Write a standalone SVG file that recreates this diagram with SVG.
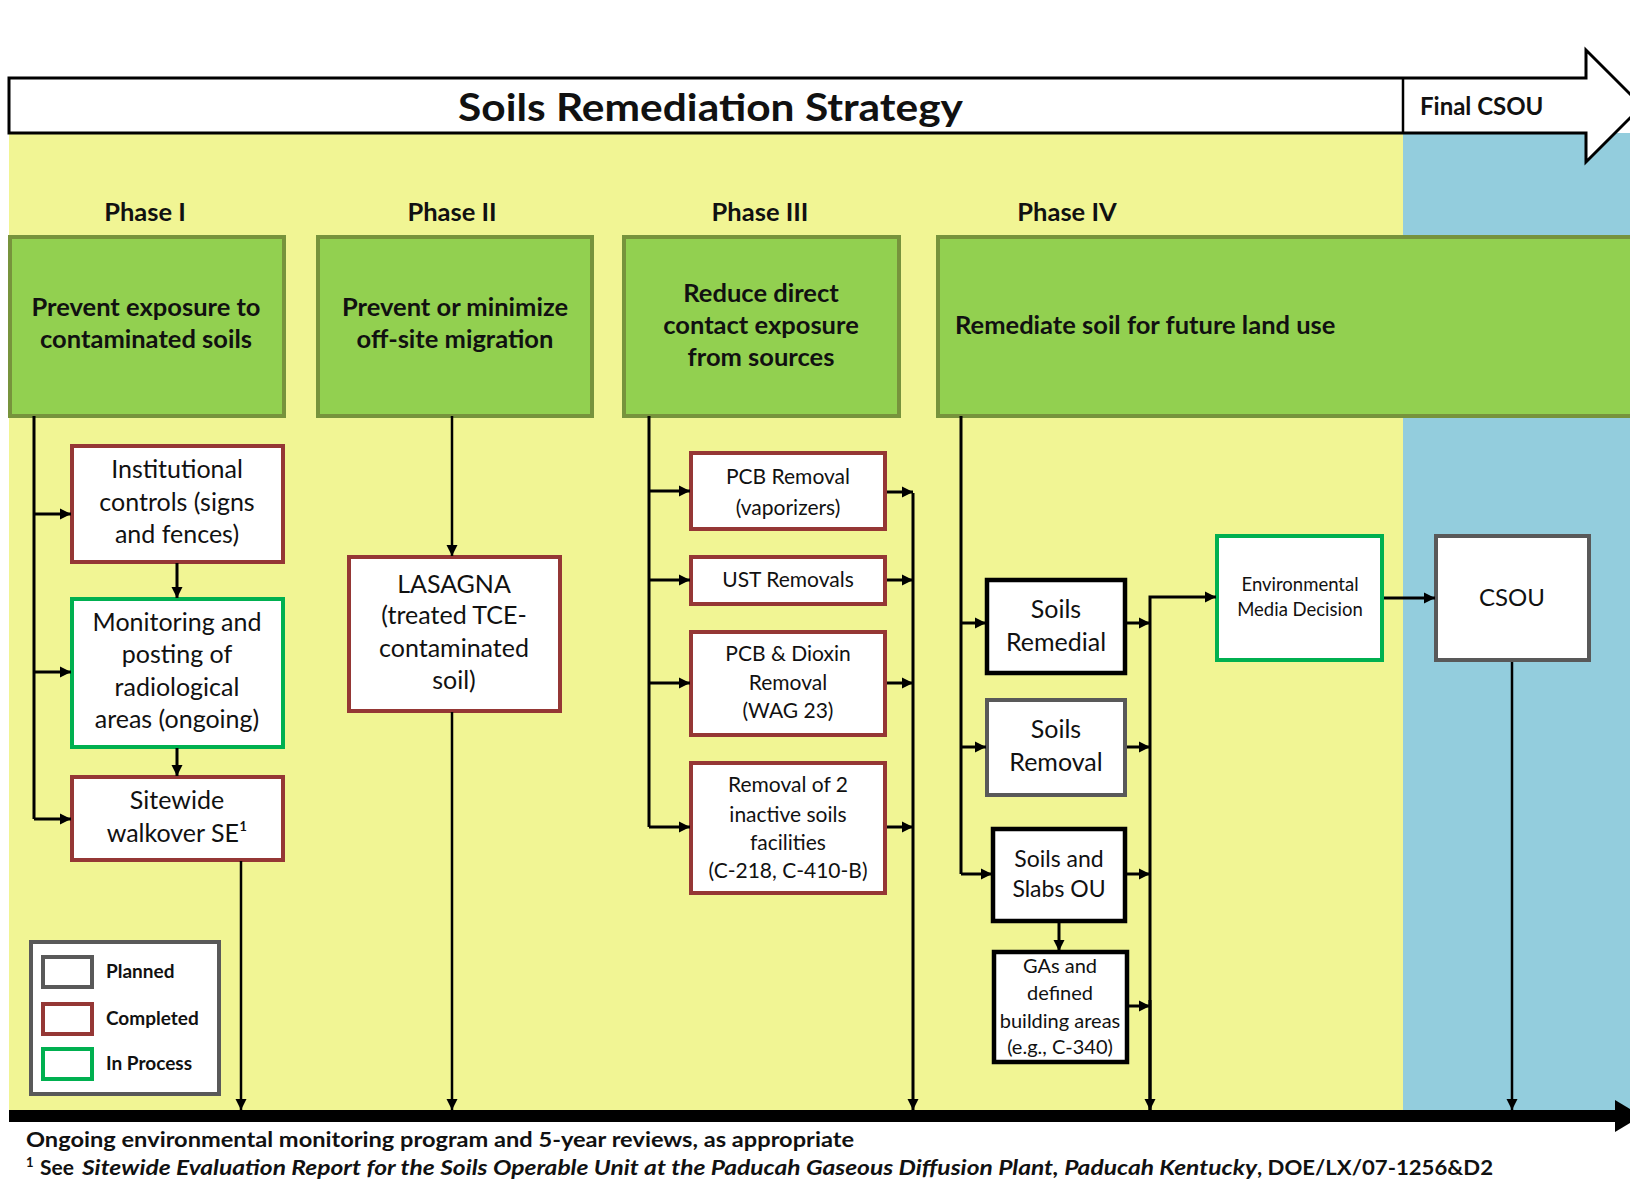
<svg xmlns="http://www.w3.org/2000/svg" width="1630" height="1181" viewBox="0 0 1630 1181">
<defs>
<style>
text{font-family:Lato,"Liberation Sans",sans-serif;fill:#111}
.b{font-weight:bold}
.c{text-anchor:middle}
.hdr{fill:#92D050;stroke:#77933C;stroke-width:4}
.done{fill:#fff;stroke:#953735;stroke-width:4}
.prog{fill:#fff;stroke:#00B050;stroke-width:4}
.plan{fill:#fff;stroke:#595959;stroke-width:4}
.blk{fill:#fff;stroke:#000;stroke-width:4.5}
.ph{font-size:25.5px;font-weight:bold}
.gt{font-size:25.5px;font-weight:bold}
.st{font-size:25px}
.s3{font-size:21px}
.ln{fill:none;stroke:#000;stroke-width:3}
.ln2{fill:none;stroke:#000;stroke-width:2.5}
.ar{marker-end:url(#ah)}
</style>
<marker id="ah" markerWidth="12" markerHeight="12" refX="11" refY="6" orient="auto" markerUnits="userSpaceOnUse"><path d="M0,0.5 L11,6 L0,11.5 z" fill="#000"/></marker>
</defs>
<rect width="1630" height="1181" fill="#fff"/>
<g id="background">
<rect x="9" y="133" width="1394" height="977" fill="#F1F594"/>
<rect x="1403" y="133" width="227" height="977" fill="#93CDDD"/>
</g>
<g id="header">
<path d="M9,78 H1586 V50 L1642,106 L1586,162 V133 H9 Z" fill="#fff" stroke="#000" stroke-width="3"/>
<line x1="1403" y1="78" x2="1403" y2="133" stroke="#000" stroke-width="2.5"/>
<text x="458" y="121" font-size="38" class="b" textLength="505" lengthAdjust="spacingAndGlyphs">Soils Remediation Strategy</text>
<text x="1420" y="115" font-size="24" class="b">Final CSOU</text>
</g>
<g id="phase-labels">
<text x="145" y="221" class="ph c">Phase I</text>
<text x="452" y="221" class="ph c">Phase II</text>
<text x="760" y="221" class="ph c">Phase III</text>
<text x="1067" y="221" class="ph c">Phase IV</text>
</g>
<g id="phase1-goal">
<rect x="10" y="237" width="274" height="179" class="hdr"/>
<text x="146" y="316" class="gt c">Prevent exposure to</text>
<text x="146" y="348" class="gt c">contaminated soils</text>
</g>
<g id="phase2-goal">
<rect x="318" y="237" width="274" height="179" class="hdr"/>
<text x="455" y="316" class="gt c">Prevent or minimize</text>
<text x="455" y="348" class="gt c">off-site migration</text>
</g>
<g id="phase3-goal">
<rect x="624" y="237" width="275" height="179" class="hdr"/>
<text x="761" y="302" class="gt c">Reduce direct</text>
<text x="761" y="334" class="gt c">contact exposure</text>
<text x="761" y="366" class="gt c">from sources</text>
</g>
<g id="phase4-goal">
<rect x="938" y="237" width="710" height="179" class="hdr"/>
<text x="955" y="334" class="gt">Remediate soil for future land use</text>
</g>
<g id="institutional">
<rect x="72" y="446" width="211" height="116" class="done"/>
<text x="177" y="478" class="st c">Institutional</text>
<text x="177" y="511" class="st c">controls (signs</text>
<text x="177" y="543" class="st c">and fences)</text>
</g>
<g id="monitoring">
<rect x="72" y="599" width="211" height="148" class="prog"/>
<text x="177" y="631" class="st c">Monitoring and</text>
<text x="177" y="663" class="st c">posting of</text>
<text x="177" y="696" class="st c">radiological</text>
<text x="177" y="728" class="st c">areas (ongoing)</text>
</g>
<g id="sitewide">
<rect x="72" y="777" width="211" height="83" class="done"/>
<text x="177" y="809" class="st c">Sitewide</text>
<text x="177" y="842" class="st c">walkover SE¹</text>
</g>
<g id="lasagna">
<rect x="349" y="557" width="211" height="154" class="done"/>
<text x="454" y="593" class="st c">LASAGNA</text>
<text x="454" y="624" class="st c">(treated TCE-</text>
<text x="454" y="657" class="st c">contaminated</text>
<text x="454" y="689" class="st c">soil)</text>
</g>
<g id="pcb-removal">
<rect x="691" y="453" width="194" height="76" class="done"/>
<text x="788" y="484" class="s3 c">PCB Removal</text>
<text x="788" y="515" class="s3 c">(vaporizers)</text>
</g>
<g id="ust">
<rect x="691" y="557" width="194" height="47" class="done"/>
<text x="788" y="587" class="s3 c">UST Removals</text>
</g>
<g id="pcb-dioxin">
<rect x="691" y="632" width="194" height="103" class="done"/>
<text x="788" y="661" class="s3 c">PCB &amp; Dioxin</text>
<text x="788" y="690" class="s3 c">Removal</text>
<text x="788" y="718" class="s3 c">(WAG 23)</text>
</g>
<g id="inactive">
<rect x="691" y="763" width="194" height="130" class="done"/>
<text x="788" y="792" class="s3 c">Removal of 2</text>
<text x="788" y="822" class="s3 c">inactive soils</text>
<text x="788" y="850" class="s3 c">facilities</text>
<text x="788" y="878" class="s3 c">(C-218, C-410-B)</text>
</g>
<g id="soils-remedial">
<rect x="987" y="580" width="138" height="93" class="blk"/>
<text x="1056" y="618" class="st c">Soils</text>
<text x="1056" y="651" class="st c">Remedial</text>
</g>
<g id="soils-removal">
<rect x="987" y="700" width="138" height="95" class="plan"/>
<text x="1056" y="738" class="st c">Soils</text>
<text x="1056" y="771" class="st c">Removal</text>
</g>
<g id="soils-slabs">
<rect x="993" y="829" width="132" height="92" class="blk"/>
<text x="1059" y="867" font-size="23" class="c">Soils and</text>
<text x="1059" y="897" font-size="23" class="c">Slabs OU</text>
</g>
<g id="gas">
<rect x="994" y="952" width="133" height="110" class="blk"/>
<text x="1060" y="973" font-size="20" class="c">GAs and</text>
<text x="1060" y="1000" font-size="20" class="c">defined</text>
<text x="1060" y="1028" font-size="20" class="c">building areas</text>
<text x="1060" y="1054" font-size="20" class="c">(e.g., C-340)</text>
</g>
<g id="emd">
<rect x="1217" y="536" width="165" height="124" class="prog"/>
<text x="1300" y="591" font-size="18.5" class="c">Environmental</text>
<text x="1300" y="616" font-size="18.5" class="c">Media Decision</text>
</g>
<g id="csou">
<rect x="1436" y="536" width="153" height="124" class="plan"/>
<text x="1512" y="606" font-size="24" class="c">CSOU</text>
</g>
<g id="connectors">
<path d="M34,416 V819" class="ln"/>
<path d="M34,514 H71" class="ln ar"/>
<path d="M34,672 H71" class="ln ar"/>
<path d="M34,819 H71" class="ln ar"/>
<path d="M177,563 V598" class="ln ar"/>
<path d="M177,748 V776" class="ln ar"/>
<path d="M241,861 V1110" class="ln2 ar"/>
<path d="M452,416 V556" class="ln2 ar"/>
<path d="M452,712 V1110" class="ln2 ar"/>
<path d="M649,416 V827" class="ln"/>
<path d="M649,491 H690" class="ln ar"/>
<path d="M649,580 H690" class="ln ar"/>
<path d="M649,683 H690" class="ln ar"/>
<path d="M649,827 H690" class="ln ar"/>
<path d="M887,492 H913" class="ln ar"/>
<path d="M887,580 H913" class="ln ar"/>
<path d="M887,683 H913" class="ln ar"/>
<path d="M887,827 H913" class="ln ar"/>
<path d="M913,493 V1110" class="ln ar"/>
<path d="M961,416 V874" class="ln"/>
<path d="M961,623 H986" class="ln ar"/>
<path d="M961,747 H986" class="ln ar"/>
<path d="M961,874 H992" class="ln ar"/>
<path d="M1059,923 V951" class="ln ar"/>
<path d="M1127,623 H1150" class="ln ar"/>
<path d="M1127,747 H1150" class="ln ar"/>
<path d="M1127,874 H1150" class="ln ar"/>
<path d="M1129,1006 H1150" class="ln ar"/>
<path d="M1150,1110 V597 H1216" class="ln ar"/>
<path d="M1150,1000 V1110" class="ln ar"/>
<path d="M1384,598 H1435" class="ln ar"/>
<path d="M1512,662 V1110" class="ln2 ar"/>
</g>
<g id="timeline">
<rect x="9" y="1110" width="1607" height="12" fill="#000"/>
<path d="M1615,1100 L1642,1116 L1615,1132 Z" fill="#000"/>
</g>
<g id="legend">
<rect x="31" y="942" width="188" height="152" fill="#fff" stroke="#595959" stroke-width="4"/>
<rect x="43" y="957" width="49" height="30" fill="#fff" stroke="#595959" stroke-width="4"/>
<rect x="43" y="1004" width="49" height="30" fill="#fff" stroke="#953735" stroke-width="4"/>
<rect x="43" y="1049" width="49" height="30" fill="#fff" stroke="#00B050" stroke-width="4"/>
<text x="106" y="978" font-size="19" class="b">Planned</text>
<text x="106" y="1025" font-size="19" class="b">Completed</text>
<text x="106" y="1070" font-size="19" class="b">In Process</text>
</g>
<g id="footer">
<text x="26" y="1147" font-size="21" class="b" textLength="828" lengthAdjust="spacingAndGlyphs">Ongoing environmental monitoring program and 5-year reviews, as appropriate</text>
<text x="26" y="1167" font-size="13" class="b">1</text>
<text x="40" y="1175" font-size="21" class="b">See</text>
<text x="82" y="1175" font-size="21" class="b" font-style="italic" textLength="1175" lengthAdjust="spacingAndGlyphs">Sitewide Evaluation Report for the Soils Operable Unit at the Paducah Gaseous Diffusion Plant, Paducah Kentucky</text>
<text x="1257" y="1175" font-size="21" class="b" textLength="236" lengthAdjust="spacingAndGlyphs">, DOE/LX/07-1256&amp;D2</text>
</g>
</svg>
